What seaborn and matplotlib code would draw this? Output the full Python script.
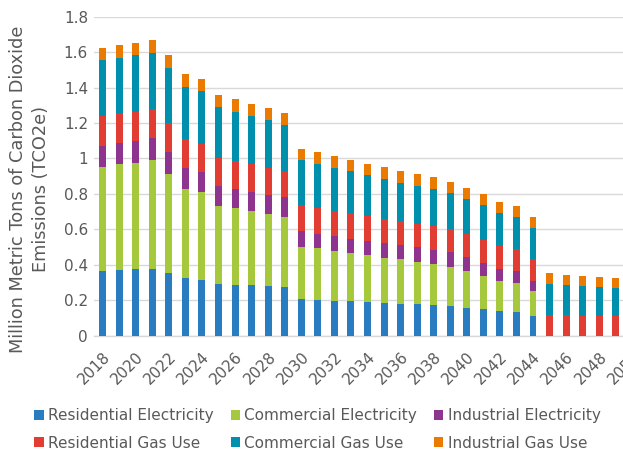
import matplotlib
matplotlib.use("Agg")
import matplotlib.pyplot as plt
import matplotlib.transforms as mtransforms
from matplotlib.patches import Patch
from matplotlib.ticker import FuncFormatter
import numpy as np
import pandas as pd
import seaborn as sns

years = [str(y) for y in range(2018, 2051)]

res_elec = [0.365, 0.368, 0.374, 0.378, 0.355, 0.327, 0.316, 0.293, 0.288, 0.284,
            0.279, 0.275, 0.209, 0.203, 0.198, 0.194, 0.188, 0.185, 0.181, 0.181,
            0.175, 0.168, 0.158, 0.149, 0.139, 0.134, 0.111, 0, 0, 0, 0, 0, 0]
com_elec = [0.588, 0.600, 0.603, 0.613, 0.557, 0.502, 0.494, 0.440, 0.432, 0.421,
            0.410, 0.395, 0.294, 0.290, 0.282, 0.271, 0.268, 0.256, 0.250, 0.237,
            0.232, 0.222, 0.209, 0.190, 0.172, 0.165, 0.141, 0, 0, 0, 0, 0, 0]
ind_elec = [0.120, 0.118, 0.123, 0.126, 0.124, 0.116, 0.115, 0.113, 0.109, 0.107,
            0.106, 0.112, 0.088, 0.083, 0.081, 0.081, 0.081, 0.081, 0.079, 0.081,
            0.079, 0.083, 0.077, 0.072, 0.066, 0.064, 0.055, 0, 0, 0, 0, 0, 0]
res_gas = [0.168, 0.168, 0.163, 0.161, 0.163, 0.162, 0.158, 0.158, 0.156, 0.158,
           0.152, 0.146, 0.145, 0.142, 0.143, 0.145, 0.139, 0.139, 0.136, 0.134,
           0.132, 0.128, 0.130, 0.129, 0.130, 0.125, 0.124, 0.115, 0.115, 0.113,
           0.113, 0.113, 0.112]
com_gas = [0.314, 0.314, 0.320, 0.318, 0.312, 0.299, 0.295, 0.284, 0.278, 0.271,
           0.268, 0.262, 0.255, 0.248, 0.243, 0.237, 0.228, 0.224, 0.218, 0.214,
           0.211, 0.203, 0.198, 0.196, 0.186, 0.184, 0.175, 0.177, 0.171, 0.168,
           0.160, 0.156, 0.153]
ind_gas = [0.069, 0.071, 0.069, 0.071, 0.070, 0.070, 0.069, 0.069, 0.072, 0.067,
           0.071, 0.068, 0.065, 0.072, 0.066, 0.066, 0.066, 0.066, 0.066, 0.064,
           0.066, 0.064, 0.062, 0.061, 0.060, 0.062, 0.061, 0.060, 0.057, 0.058,
           0.060, 0.057, 0.056]

series_names = ["Residential Electricity", "Commercial Electricity", "Industrial Electricity",
                "Residential Gas Use", "Commercial Gas Use", "Industrial Gas Use"]
series_values = [res_elec, com_elec, ind_elec, res_gas, com_gas, ind_gas]
colors = ["#2A7CC0", "#A6C83D", "#8E338E", "#E23D33", "#0090AE", "#EB7A00"]

text_color = "#595959"
grid_color = "#D9D9D9"

plt.rcParams["font.family"] = ["DejaVu Sans"]
plt.rcParams["font.size"] = 11

fig = plt.figure(figsize=(6.23, 4.51), dpi=100)
ax = fig.add_axes([0.1515, 0.2557, 0.8767, 0.7073])

df = pd.DataFrame({"year": years})
bottom = np.zeros(len(years))
for name, vals, col in zip(series_names, series_values, colors):
    df[name] = vals
    sns.barplot(data=df, x="year", y=name, color=col, saturation=1,
                width=0.42, bottom=bottom, ax=ax, errorbar=None, zorder=3)
    bottom = bottom + np.array(vals)

ax.set_xlim(-0.5, len(years) - 0.5)
ax.set_ylim(0, 1.8)
ax.set_yticks(np.arange(0, 1.81, 0.2))
ax.yaxis.set_major_formatter(FuncFormatter(lambda v, p: f"{v:g}"))
ax.yaxis.grid(True, color=grid_color, lw=1, zorder=0)
ax.set_axisbelow(True)
for s in ["left", "right", "top"]:
    ax.spines[s].set_visible(False)
ax.spines["bottom"].set_color(grid_color)
ax.spines["bottom"].set_linewidth(1)
ax.set_xlabel("")
ax.set_ylabel("")

ax.set_xticks(range(0, len(years), 2))
ax.set_xticklabels(years[::2], rotation=45, ha="right", va="top",
                   rotation_mode="anchor", color=text_color, fontsize=11)
offset = mtransforms.ScaledTranslation(3 / 100, 0, fig.dpi_scale_trans)
for lbl in ax.get_xticklabels():
    lbl.set_transform(lbl.get_transform() + offset)
ax.tick_params(axis="x", length=0, pad=10)
ax.tick_params(axis="y", length=0, pad=4.6, labelcolor=text_color, labelsize=11)

fig.text(0.048, 0.581, "Million Metric Tons of Carbon Dioxide\nEmissions (TCO2e)",
         rotation=90, ha="center", va="center", multialignment="center",
         linespacing=1.35, color=text_color, fontsize=12.8)

handles = [Patch(facecolor=c, edgecolor="none") for c in colors]
order = [0, 3, 1, 4, 2, 5]
leg = fig.legend([handles[i] for i in order], [series_names[i] for i in order],
                 ncol=3, loc="center", bbox_to_anchor=(0.5097, 0.0477),
                 frameon=False, handlelength=0.6, handleheight=0.6,
                 handletextpad=0.3, columnspacing=1.1, labelspacing=0.8,
                 fontsize=11, labelcolor=text_color)

fig.savefig("out.png", dpi=100)
